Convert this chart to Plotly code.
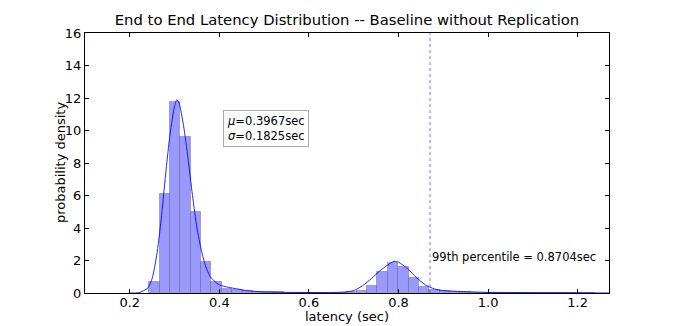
import plotly.graph_objects as go

# ---- data ----
BIN_START = 0.2432
BIN_WIDTH = 0.02317
bin_density = [0.65, 6.07, 11.78, 9.57, 4.99, 1.88, 0.65, 0.25, 0.18, 0.10,
               0.06, 0.05, 0.04, 0.03, 0.02, 0.02, 0.01, 0.02, 0.02, 0.04,
               0.10, 0.43, 1.27, 1.82, 1.61, 0.94, 0.39, 0.18, 0.10, 0.07,
               0.05, 0.03, 0.03, 0.02, 0.02, 0.01, 0.01, 0.01, 0.0, 0.01,
               0.0, 0.01, 0.0]

kde_x = [0.20, 0.22, 0.24, 0.25, 0.26, 0.27, 0.28, 0.29, 0.30, 0.305, 0.31,
         0.32, 0.33, 0.34, 0.35, 0.36, 0.37, 0.38, 0.39, 0.40, 0.42, 0.44,
         0.46, 0.48, 0.50, 0.55, 0.60, 0.65, 0.68, 0.70, 0.72, 0.74, 0.76,
         0.78, 0.79, 0.80, 0.82, 0.84, 0.86, 0.88, 0.90, 0.95, 1.00, 1.05,
         1.10, 1.20, 1.27]
kde_y = [0.0, 0.02, 0.3, 0.9, 2.3, 4.5, 7.3, 9.8, 11.5, 11.9, 11.7,
         10.3, 8.3, 6.0, 4.0, 2.6, 1.6, 1.0, 0.7, 0.5, 0.35, 0.25,
         0.15, 0.1, 0.07, 0.04, 0.03, 0.03, 0.06, 0.15, 0.45, 0.9, 1.4,
         1.8, 1.95, 1.9, 1.5, 0.95, 0.5, 0.25, 0.15, 0.08, 0.04, 0.03,
         0.02, 0.01, 0.0]

mean_sec = 0.3967
std_sec = 0.1825
p99_sec = 0.8704

x_ticks = [0.2, 0.4, 0.6, 0.8, 1.0, 1.2]
y_ticks = [0, 2, 4, 6, 8, 10, 12, 14, 16]

# ---- figure ----
bin_centers = [BIN_START + BIN_WIDTH * (i + 0.5) for i in range(len(bin_density))]

# page body has an 8px margin, so the figure is sized to fit the window
W, H = 669, 318
L, T = 77, 25
R = W - 601
B = H - 285

FONT = "DejaVu Sans"
fig = go.Figure()
fig.add_trace(go.Bar(
    x=bin_centers, y=bin_density, width=BIN_WIDTH,
    marker=dict(color="rgba(0,0,255,0.4)",
                line=dict(color="rgba(120,120,140,0.55)", width=1)),
    showlegend=False, hoverinfo="skip"))
fig.add_trace(go.Scatter(
    x=kde_x, y=kde_y, mode="lines",
    line=dict(color="rgba(0,0,255,0.85)", width=1, shape="spline", smoothing=0.6),
    showlegend=False, hoverinfo="skip"))

fig.add_shape(type="line", x0=p99_sec, x1=p99_sec, y0=0, y1=1, yref="paper",
              line=dict(color="rgba(60,60,255,0.7)", width=1, dash="3px,3px"))

fig.add_annotation(x=p99_sec, y=2.2, xanchor="left", yanchor="middle",
                   text=f"99th percentile = {p99_sec}sec", showarrow=False,
                   font=dict(family=FONT, size=11.5, color="black"))

fig.add_annotation(x=0.409, y=10.15, xanchor="left", yanchor="middle", align="left",
                   text=f"<i>μ</i>={mean_sec}sec<br><i>σ</i>={std_sec}sec", showarrow=False,
                   font=dict(family=FONT, size=11.5, color="black"),
                   bordercolor="#aaaaaa", borderwidth=1, borderpad=3, bgcolor="white")

# axis titles
fig.add_annotation(text="latency (sec)", xref="paper", yref="paper", x=0.5, y=0,
                   xanchor="center", yanchor="top", yshift=-14, showarrow=False,
                   font=dict(family=FONT, size=13, color="black"))
fig.add_annotation(text="probability density", xref="paper", yref="paper", x=0, y=0.5,
                   xanchor="center", yanchor="middle", xshift=-25, textangle=-90,
                   showarrow=False, font=dict(family=FONT, size=13, color="black"))

fig.update_layout(
    width=W, height=H,
    margin=dict(l=L, r=R, t=T, b=B, autoexpand=False),
    paper_bgcolor="white", plot_bgcolor="white",
    bargap=0,
    font=dict(family=FONT, size=13, color="black"),
    title=dict(text="End to End Latency Distribution -- Baseline without Replication",
               x=(L + 601) / 2 / W, xanchor="center", y=1 - 12 / H, yanchor="middle",
               font=dict(family=FONT, size=14.8, color="black")),
    xaxis=dict(range=[0.1, 1.27], tickvals=x_ticks, ticktext=[f"{v:.1f}" for v in x_ticks],
               ticks="inside", ticklen=4, tickcolor="black", mirror="allticks",
               showline=True, linecolor="black", linewidth=1, showgrid=False, zeroline=False,
               automargin=False, ticklabelstandoff=-3, tickfont=dict(family=FONT, size=13)),
    yaxis=dict(range=[0, 16], tickvals=y_ticks,
               ticks="inside", ticklen=4, tickcolor="black", mirror="allticks",
               showline=True, linecolor="black", linewidth=1, showgrid=False, zeroline=False,
               automargin=False, tickfont=dict(family=FONT, size=13)),
)

fig.write_html("out.html")
